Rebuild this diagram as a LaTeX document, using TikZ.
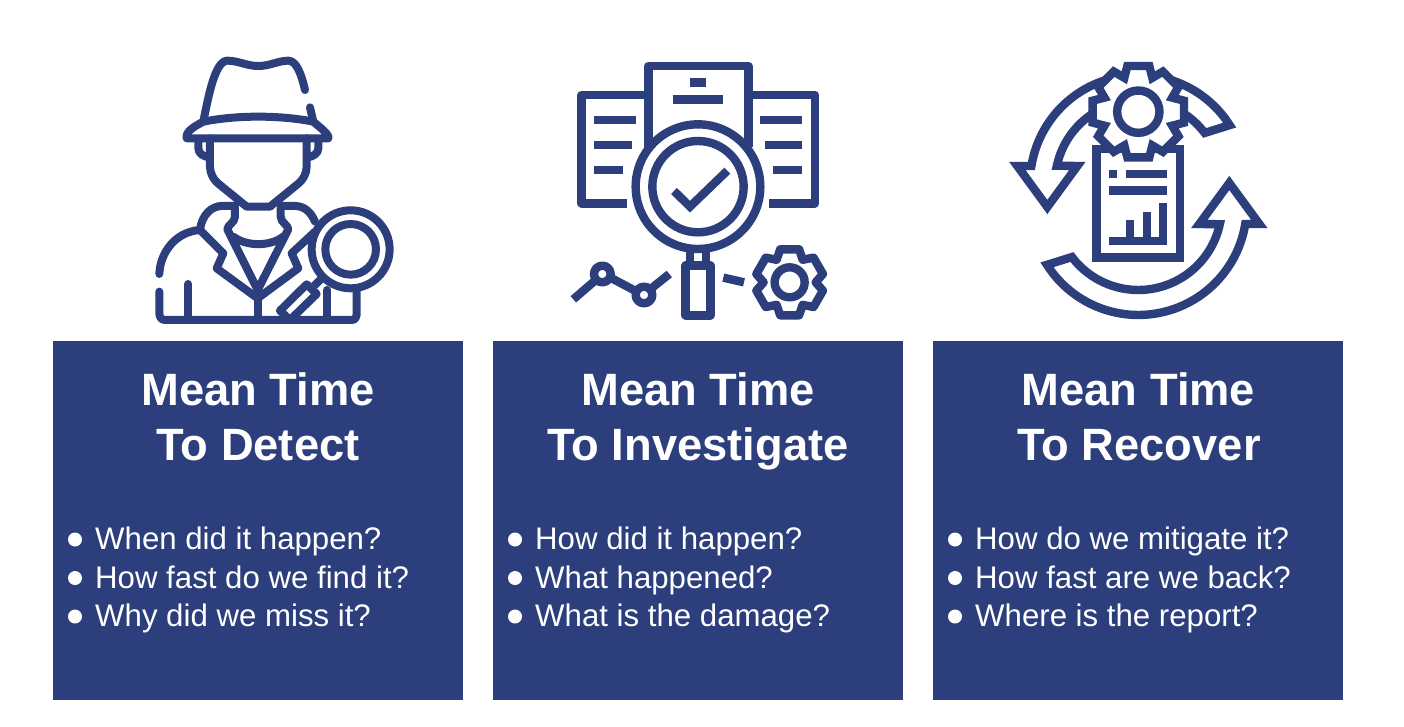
\documentclass[tikz,border=0pt]{standalone}
\usepackage{fontspec}
\setmainfont{Liberation Sans}
\definecolor{navy}{HTML}{2C3E7B}
\tikzset{
  panel/.style={fill=navy,draw=none,minimum width=410pt,minimum height=359pt,anchor=north west,inner sep=0pt},
  headline/.style={text=white,font=\fontsize{45.3}{55}\bfseries\selectfont,align=center,inner sep=0pt,anchor=base},
  bodyline/.style={text=white,font=\fontsize{31.2}{38}\selectfont,inner sep=0pt,anchor=base west},
  dotmark/.style={circle,fill=white,minimum size=14pt,inner sep=0pt,draw=none},
  ink/.style={draw=navy,line width=8pt,line join=round,line cap=round},
  inkbutt/.style={draw=navy,line width=8.4pt,line join=round,line cap=butt},
  inkmiter/.style={draw=navy,line width=8.4pt,line join=miter,line cap=butt,miter limit=10},
  zoomA/.style={shift={(140pt,-40pt)},x=0.3333pt,y=-0.3333pt},
  zoomB/.style={shift={(560pt,-50pt)},x=0.3333pt,y=-0.3333pt},
  zoomC/.style={shift={(1000pt,-50pt)},x=0.3333pt,y=-0.3333pt},
}
\begin{document}
\begin{tikzpicture}[x=1pt,y=-1pt]
\useasboundingbox (0,0) rectangle (1404,726);
\fill[white] (0,0) rectangle (1404,726);
% panels
\node[panel] (p1) at (53,341) {};
\node[panel] (p2) at (493,341) {};
\node[panel] (p3) at (933,341) {};
% titles
\node[headline] (t1a) at (258,405) {Mean Time};
\node[headline] (t1b) at (258,460) {To Detect};
\node[headline] (t2a) at (698,405) {Mean Time};
\node[headline] (t2b) at (698,460) {To Investigate};
\node[headline] (t3a) at (1138.5,405) {Mean Time};
\node[headline] (t3b) at (1139,460) {To Recover};
% body
\foreach \n/\x/\ta/\tb/\tc in {1/53/When did it happen?/How fast do we find it?/Why did we miss it?,
  2/493/How did it happen?/What happened?/What is the damage?,
  3/933/How do we mitigate it?/How fast are we back?/Where is the report?}{
  \node[dotmark] (d\n a) at (\x+22,539.5) {};
  \node[dotmark] (d\n b) at (\x+22,578) {};
  \node[dotmark] (d\n c) at (\x+22,616.5) {};
  \node[bodyline] (l\n a) at (\x+42,549.5) {\ta};
  \node[bodyline] (l\n b) at (\x+42,588) {\tb};
  \node[bodyline] (l\n c) at (\x+42,626.5) {\tc};
}
% detective
\begin{scope}[zoomA]
 \draw[ink] (190,245) .. controls (205,170) and (225,62) .. (262,62) .. controls (295,62) and (320,78) .. (355,78) .. controls (390,78) and (415,62) .. (445,62) .. controls (470,62) and (485,105) .. (495,150);
 \draw[ink] (510,202) -- (520,245);
 \draw[ink] (140,295) -- (565,295) .. controls (570,285) and (540,262) .. (520,245) .. controls (420,225) and (290,225) .. (190,245) .. controls (165,258) and (135,275) .. (140,295);
 \draw[ink] (175,300) -- (175,325) .. controls (175,340) and (190,350) .. (208,352);
 \draw[ink] (535,300) -- (535,325) .. controls (535,340) and (520,350) .. (502,352);
 \draw[ink] (210,295) -- (210,380) .. controls (210,400) and (220,420) .. (240,435) -- (320,500) -- (390,500) -- (470,435) .. controls (490,420) and (500,400) .. (500,380) -- (500,295);
 \draw[ink] (285,505) -- (285,530) .. controls (285,548) and (262,555) .. (262,568) -- (353,750) -- (445,568) .. controls (445,555) and (422,548) .. (422,530) -- (422,505);
 \draw[ink] (280,590) .. controls (320,620) and (390,620) .. (430,590);
 \draw[ink] (180,570) -- (250,640) -- (230,685) -- (353,775) -- (475,685) -- (455,640) -- (525,575);
 \draw[ink] (180,570) .. controls (185,525) and (215,498) .. (245,498) -- (285,498);
 \draw[ink] (422,498) -- (465,498) .. controls (495,498) and (515,520) .. (525,545);
 \draw[ink] (58,702) .. controls (60,640) and (105,575) .. (180,570);
 \draw[ink] (58,755) -- (58,820) .. controls (58,832) and (65,840) .. (75,840) -- (635,840) .. controls (645,840) and (650,832) .. (650,825) -- (650,750);
 \draw[ink] (145,732) -- (145,840);
 \draw[ink] (353,775) -- (353,840);
 \draw[ink] (562,750) -- (562,840);
 \draw[ink] (632,628) circle[radius=117];
 \draw[ink] (632,628) circle[radius=76];
 \draw[ink] (420,812) -- (500,733) -- (530,762) -- (450,840) -- cycle;
 \draw[ink,line cap=butt] (522,738) -- (548,712);
\end{scope}
% investigate
\begin{scope}[zoomB]
 \draw[inkbutt] (265,290) -- (265,48) -- (565,48) -- (565,290);
 \draw[inkbutt] (265,135) -- (65,135) -- (65,460) -- (202,460);
 \draw[inkbutt] (565,135) -- (765,135) -- (765,460) -- (627,460);
 \foreach \xa/\xb/\yy in {102/227/210,102/215/285,102/190/360,601/726/210,614/726/285,639/726/360,390/438/98,339/489/148}{
   \draw[inkbutt] (\xa,\yy) -- (\xb,\yy);
 }
 \draw[inkbutt,fill=white] (414,410) circle[radius=187];
 \draw[inkbutt] (414,410) circle[radius=137];
 \draw[inkmiter] (342,423) -- (390,470) -- (502,362);
 \draw[inkbutt] (390,598) -- (390,647);
 \draw[inkbutt] (438,598) -- (438,647);
 \draw[inkbutt] (377,647) rectangle (451,796);
 \draw[inkbutt] (40,748) -- (105,692);
 \draw[inkbutt] (127,672) circle[radius=25];
 \draw[inkbutt] (155,685) -- (225,722);
 \draw[inkbutt] (252,735) circle[radius=25];
 \draw[inkbutt] (278,712) -- (328,672);
 \draw[inkbutt] (490,683) -- (552,697);
 \draw[inkbutt] (689,697) circle[radius=45];
 \draw[inkbutt,shift={(689,697)}] (0:78) foreach \k in {30,90,150,210,270,330} { -- (\k-30:78) -- (\k-16:103) -- (\k+16:103) } -- cycle;
\end{scope}
% recover
\begin{scope}[zoomC]
 \draw[inkmiter] plot[domain=9.2:147.5,samples=60] ({415+325*cos(\x)},{470+325*sin(\x)}) -- plot[domain=142.8:12.2,samples=60] ({415+250*cos(\x)},{470+250*sin(\x)}) -- (598,522) -- (688,399) -- (778,522) -- cycle;
 \draw[inkmiter] plot[domain=189.2:327.5,samples=60] ({415+325*cos(\x)},{400+325*sin(\x)}) -- plot[domain=322.8:192.2,samples=60] ({415+250*cos(\x)},{400+250*sin(\x)}) -- (232,348) -- (142,471) -- (52,348) -- cycle;
 \draw[inkmiter] (290,297) rectangle (540,623);
 \draw[inkmiter,fill=white,shift={(415,185)}] (-22.5:110) foreach \k in {0,45,...,315} { -- (\k-13.5:141) -- (\k+13.5:141) -- (\k+22.5:110) } -- cycle;
 \draw[inkmiter] (415,185) circle[radius=63.5];
 \fill[navy] (327,360) rectangle (352,384);
 \draw[inkmiter] (378,372) -- (502,372);
 \draw[inkmiter] (327,422) -- (502,422);
 \fill[navy] (327,560) rectangle (502,584);
 \fill[navy] (378,510) rectangle (402,584);
 \fill[navy] (428,485) rectangle (452,584);
 \fill[navy] (478,460) rectangle (502,584);
\end{scope}
\end{tikzpicture}
\end{document}
